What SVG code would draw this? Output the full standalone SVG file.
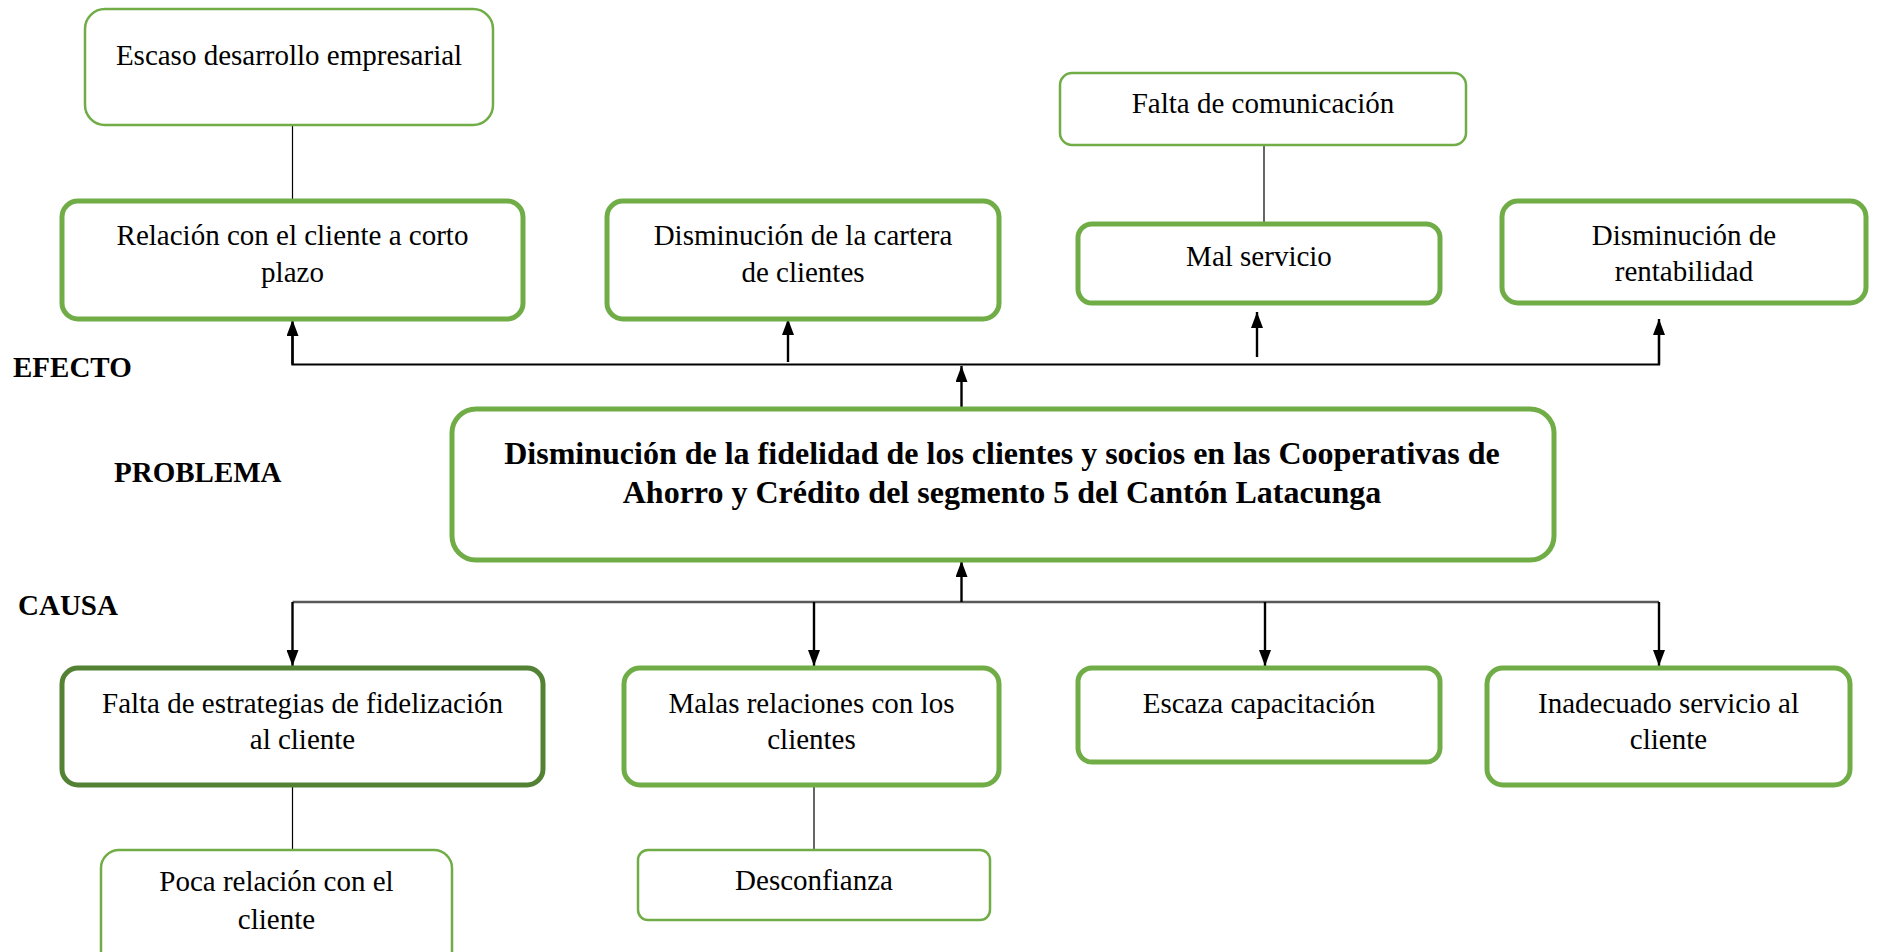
<svg xmlns="http://www.w3.org/2000/svg" width="1880" height="952" viewBox="0 0 1880 952">
<defs>
<marker id="ah" viewBox="0 0 16 12" refX="16" refY="6" markerWidth="16" markerHeight="12" markerUnits="userSpaceOnUse" orient="auto">
<path d="M0,0 L16,6 L0,12 z" fill="#000"/>
</marker>
</defs>
<style>
text{font-family:"Liberation Serif","Times New Roman",serif;font-size:29px;fill:#000;text-anchor:middle}
.lbl{font-weight:bold;text-anchor:start}
.prob{font-weight:bold;font-size:32px}
.thick{fill:#fff;stroke:#70AD47;stroke-width:5}
.thin{fill:#fff;stroke:#70AD47;stroke-width:2.5}
.dark{fill:#fff;stroke:#548235;stroke-width:5}
.ln{stroke:#000;stroke-width:2.2;fill:none}
.tl{stroke:#000;stroke-width:1.2;fill:none}
.arr{stroke:#000;stroke-width:2.4;fill:none;marker-end:url(#ah)}
</style>
<rect width="1880" height="952" fill="#fff"/>
<g id="connectors">
<line class="tl" x1="292.5" y1="125" x2="292.5" y2="200"/>
<line class="tl" x1="1264" y1="145" x2="1264" y2="223"/>
<line class="tl" x1="292.5" y1="785" x2="292.5" y2="850"/>
<line class="tl" x1="814" y1="785" x2="814" y2="850"/>
<polyline class="ln" points="292.5,330 292.5,364.5 1659,364.5 1659,330"/>
<line class="arr" x1="292.5" y1="364.5" x2="292.5" y2="320"/>
<line class="arr" x1="788" y1="362" x2="788" y2="319"/>
<line class="arr" x1="1257" y1="357" x2="1257" y2="312"/>
<line class="arr" x1="1659" y1="364.5" x2="1659" y2="319"/>
<line class="arr" x1="961.5" y1="408" x2="961.5" y2="366"/>
<line stroke="#595959" stroke-width="2.5" x1="292.5" y1="602" x2="1659" y2="602"/>
<line class="arr" x1="961.5" y1="602" x2="961.5" y2="561"/>
<line class="arr" x1="292.5" y1="602" x2="292.5" y2="666"/>
<line class="arr" x1="814" y1="602" x2="814" y2="666"/>
<line class="arr" x1="1265" y1="602" x2="1265" y2="666"/>
<line class="arr" x1="1659" y1="602" x2="1659" y2="666"/>
</g>
<g id="n-escaso">
<rect class="thin" x="85" y="9" width="408" height="116" rx="20"/>
<text x="289" y="65">Escaso desarrollo empresarial</text>
</g>
<g id="n-relacion">
<rect class="thick" x="62" y="201" width="461" height="118" rx="16"/>
<text x="292.5" y="245">Relación con el cliente a corto</text>
<text x="292.5" y="282">plazo</text>
</g>
<g id="n-cartera">
<rect class="thick" x="607" y="201" width="392" height="118" rx="16"/>
<text x="803" y="245">Disminución de la cartera</text>
<text x="803" y="282">de clientes</text>
</g>
<g id="n-comunicacion">
<rect class="thin" x="1060" y="73" width="406" height="72" rx="12"/>
<text x="1263" y="113">Falta de comunicación</text>
</g>
<g id="n-malservicio">
<rect class="thick" x="1078" y="224" width="362" height="79" rx="14"/>
<text x="1259" y="266">Mal servicio</text>
</g>
<g id="n-rentabilidad">
<rect class="thick" x="1502" y="201" width="364" height="102" rx="16"/>
<text x="1684" y="245">Disminución de</text>
<text x="1684" y="281">rentabilidad</text>
</g>
<g id="labels">
<text class="lbl" x="13" y="377">EFECTO</text>
<text class="lbl" x="114" y="482">PROBLEMA</text>
<text class="lbl" x="18" y="615">CAUSA</text>
</g>
<g id="n-problema">
<rect class="thick" x="452" y="409" width="1102" height="151" rx="24"/>
<text class="prob" x="1002" y="464">Disminución de la fidelidad de los clientes y socios en las Cooperativas de</text>
<text class="prob" x="1002" y="503">Ahorro y Crédito del segmento 5 del Cantón Latacunga</text>
</g>
<g id="n-estrategias">
<rect class="dark" x="62" y="668" width="481" height="117" rx="16"/>
<text x="302.5" y="713">Falta de estrategias de fidelización</text>
<text x="302.5" y="749">al cliente</text>
</g>
<g id="n-malas">
<rect class="thick" x="624" y="668" width="375" height="117" rx="16"/>
<text x="811.5" y="713">Malas relaciones con los</text>
<text x="811.5" y="749">clientes</text>
</g>
<g id="n-escaza">
<rect class="thick" x="1078" y="668" width="362" height="94" rx="14"/>
<text x="1259" y="713">Escaza capacitación</text>
</g>
<g id="n-inadecuado">
<rect class="thick" x="1487" y="668" width="363" height="117" rx="16"/>
<text x="1668.5" y="713">Inadecuado servicio al</text>
<text x="1668.5" y="749">cliente</text>
</g>
<g id="n-poca">
<rect class="thin" x="101" y="850" width="351" height="120" rx="18"/>
<text x="276.5" y="891">Poca relación con el</text>
<text x="276.5" y="929">cliente</text>
</g>
<g id="n-desconfianza">
<rect class="thin" x="638" y="850" width="352" height="70" rx="10"/>
<text x="814" y="890">Desconfianza</text>
</g>
</svg>
